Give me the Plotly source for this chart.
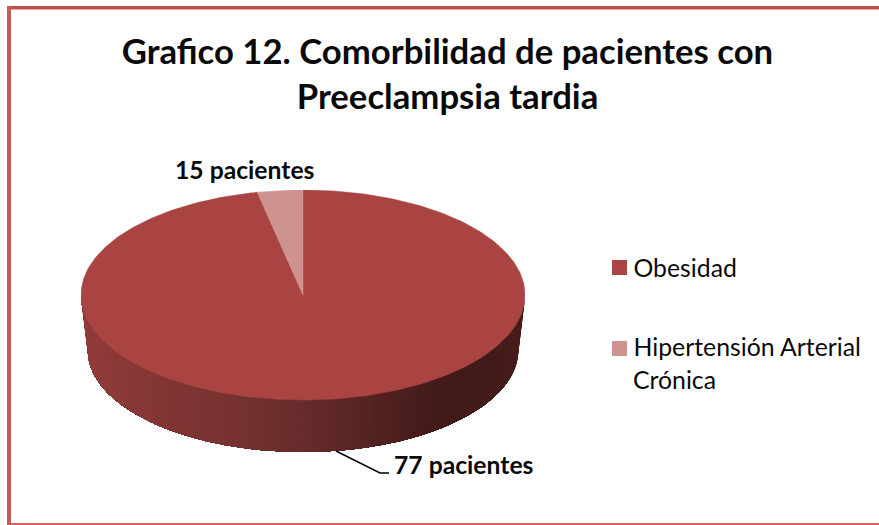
import numpy as np
import plotly.graph_objects as go

W, H = 879, 525

categories = ["Obesidad", "Hipertensión Arterial"]
category_continuation = "Crónica"
slice_labels = ["77 pacientes", "15 pacientes"]
# Shares of the circle as they are drawn in the picture (%)
slice_shares = [96.7, 3.3]
slice_colors = ["#A94442", "#CE9291"]

TILT = 105 / 222
DEPTH = 55 / 222
BOTTOM_SCALE = 0.97
BOTTOM_TILT = 102 / 222
side_stops_x = [-1.0, -0.78, -0.3, 0.0, 0.35, 0.62, 0.88, 1.0]
side_stops_rgb = [(146, 61, 59), (136, 56, 54), (118, 50, 48), (103, 44, 43),
                  (82, 34, 32), (66, 27, 25), (68, 28, 26), (72, 30, 28)]


def px(x):
    return x / W


def py(y):
    return 1 - y / H


fig = go.Figure()

# Side wall of the disc: painted right to left, each strip reaching to the left end
angles = np.linspace(np.pi / 2, 3 * np.pi / 2, 141)
for i in range(len(angles) - 1):
    t = angles[i:]
    mid = np.sin((angles[i] + angles[i + 1]) / 2)
    rgb = [int(np.interp(mid, side_stops_x, [c[k] for c in side_stops_rgb])) for k in range(3)]
    col = f"rgb({rgb[0]},{rgb[1]},{rgb[2]})"
    fig.add_trace(go.Scatter(
        x=np.r_[np.sin(t), BOTTOM_SCALE * np.sin(t[::-1])],
        y=np.r_[np.cos(t) * TILT, np.cos(t[::-1]) * BOTTOM_TILT - DEPTH],
        mode="lines", fill="toself", fillcolor=col, line=dict(width=0),
        hoverinfo="skip", showlegend=False))

# Top face slices, clockwise from 12 o'clock
start = 0.0
total = sum(slice_shares)
for share, col in zip(slice_shares, slice_colors):
    end = start + share / total * 2 * np.pi
    t = np.linspace(start, end, 361)
    fig.add_trace(go.Scatter(
        x=np.r_[0, np.sin(t), 0], y=np.r_[0, np.cos(t) * TILT, 0],
        mode="lines", fill="toself", fillcolor=col, line=dict(color=col, width=0.5),
        hoverinfo="skip", showlegend=False))
    start = end

# Legend entries: the text comes from the legend, the swatches are placed as shapes below
# because the legend's fixed swatch-to-text gap is wider than the reference's
for i, name in enumerate(categories):
    fig.add_trace(go.Scatter(
        x=[None], y=[None], mode="markers", name=name, legendgroup=str(i),
        marker=dict(symbol="square", size=15, color="rgba(0,0,0,0)")))

BORDER = "#C0504D"


def band(x0, x1, y0, y1, color):
    return dict(type="rect", xref="paper", yref="paper", x0=px(x0), x1=px(x1), y0=py(y0), y1=py(y1),
                fillcolor=color, line=dict(width=0), layer="below")


shapes = [
    band(7, 879, 9, 10, "#E8A9A7"),
    band(7, 879, 6, 9, BORDER),
    band(7, 879, 523, 525, "#CF6461"),
    band(7, 11, 6, 525, "#C85A57"),
    band(612, 627, 260, 275, slice_colors[0]),
    band(612, 627, 341, 356, slice_colors[1]),
    dict(type="path", xref="paper", yref="paper",
         path=f"M {px(336)} {py(451)} L {px(380)} {py(473)} L {px(389)} {py(473)}",
         line=dict(color="black", width=1.5)),
]

label_font = dict(family="Lato", size=24.7, color="#0a0a0a", weight="bold")
annotations = [
    dict(text=slice_labels[0], x=px(392), y=py(464), xref="paper", yref="paper", xanchor="left",
         yanchor="middle", showarrow=False, font=label_font),
    dict(text=slice_labels[1], x=px(245), y=py(170), xref="paper", yref="paper", xanchor="center",
         yanchor="middle", showarrow=False, font=label_font),
    dict(text=category_continuation, x=px(631), y=py(379), xref="paper", yref="paper", xanchor="left",
         yanchor="middle", showarrow=False, font=dict(family="Lato", size=24.8, color="#0a0a0a")),
]

fig.update_layout(
    width=W, height=H,
    margin=dict(l=0, r=0, t=0, b=0),
    paper_bgcolor="white", plot_bgcolor="rgba(0,0,0,0)",
    title=dict(text="Grafico 12. Comorbilidad de pacientes con<br>Preeclampsia tardia",
               x=px(447.5), xanchor="center", y=py(64), yanchor="top",
               font=dict(family="Lato", size=34.7, color="#0a0a0a", weight="bold")),
    xaxis=dict(domain=[px(81), px(525)], range=[-1, 1], visible=False, fixedrange=True),
    yaxis=dict(domain=[py(452), py(190)], range=[-(DEPTH + BOTTOM_TILT), TILT],
               visible=False, fixedrange=True),
    legend=dict(x=px(600), xanchor="left", y=py(245), yanchor="top", bgcolor="rgba(0,0,0,0)",
                font=dict(family="Lato", size=24.8, color="#0a0a0a"), tracegroupgap=43,
                indentation=-6.5, itemclick=False, itemdoubleclick=False),
    shapes=shapes, annotations=annotations,
)

fig.write_html("out.html", post_script="document.body.style.margin='0';", config={"displayModeBar": False})
